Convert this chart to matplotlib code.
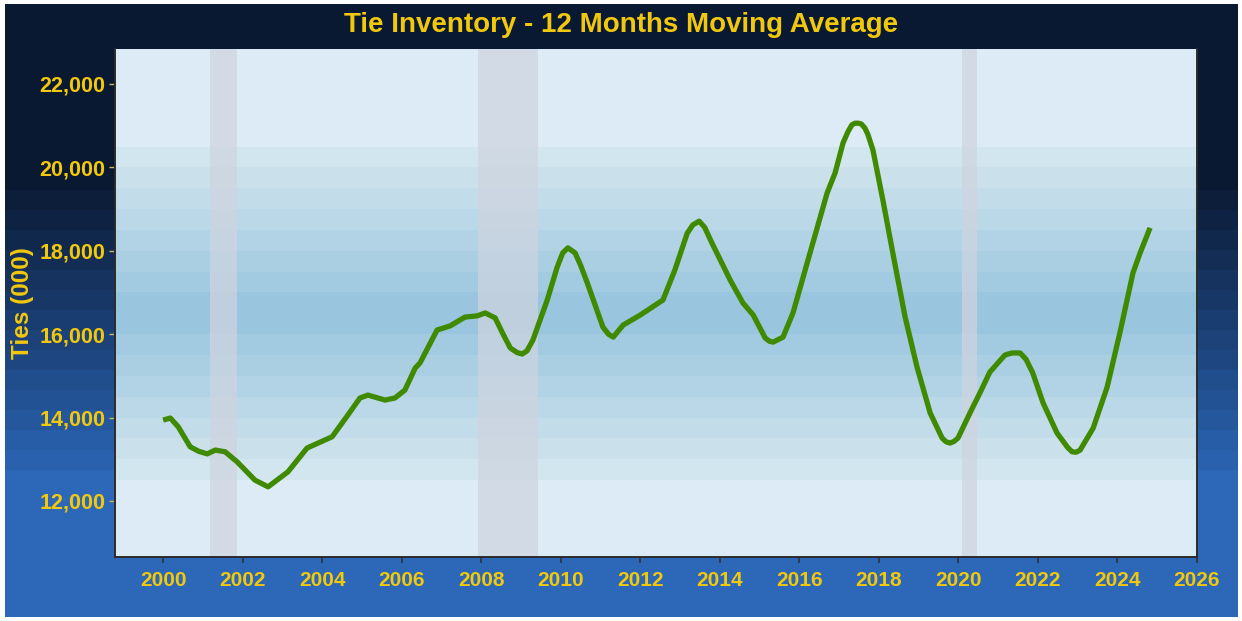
import numpy as np
import matplotlib
matplotlib.use("Agg")
import matplotlib.pyplot as plt
from matplotlib.colors import to_rgb

plt.rcParams['font.family'] = ['Liberation Sans', 'DejaVu Sans']
plt.rcParams['font.weight'] = 'bold'

# values (year fraction, ties in 000)
years = [2000.00, 2000.18, 2000.38, 2000.68, 2000.90, 2001.11, 2001.31, 2001.56, 2001.86,
         2002.31, 2002.64, 2003.14, 2003.62, 2003.90, 2004.25, 2004.60, 2004.95, 2005.15,
         2005.58, 2005.83, 2006.08, 2006.34, 2006.46, 2006.89, 2007.22, 2007.59,
         2007.90, 2008.10, 2008.35, 2008.55, 2008.73, 2008.90, 2009.03, 2009.15, 2009.30,
         2009.66, 2009.91, 2010.05, 2010.18, 2010.36, 2010.50, 2010.66, 2011.06, 2011.20,
         2011.32, 2011.57, 2012.00, 2012.57, 2012.87, 2013.18, 2013.32, 2013.48, 2013.62,
         2013.80, 2014.26, 2014.58, 2014.84, 2015.14, 2015.25, 2015.34, 2015.59, 2015.84,
         2016.34, 2016.70, 2016.90, 2017.10, 2017.22, 2017.32, 2017.40, 2017.48, 2017.56,
         2017.65, 2017.72, 2017.85, 2018.10, 2018.36, 2018.66, 2018.96, 2019.29, 2019.59,
         2019.69, 2019.79, 2019.89, 2019.99, 2020.29, 2020.54, 2020.79, 2021.03, 2021.17,
         2021.35, 2021.55, 2021.70, 2021.87, 2022.13, 2022.48, 2022.75, 2022.86, 2022.96,
         2023.06, 2023.39, 2023.74, 2024.06, 2024.39, 2024.57, 2024.82]
ties = [13940, 13990, 13780, 13300, 13190, 13130, 13220, 13180, 12940,
        12500, 12340, 12700, 13270, 13390, 13540, 14000, 14470, 14540,
        14420, 14470, 14660, 15190, 15310, 16100, 16200, 16410,
        16440, 16510, 16390, 16000, 15670, 15560, 15525, 15600, 15860,
        16820, 17610, 17950, 18070, 17950, 17650, 17250, 16170, 16000,
        15930, 16220, 16460, 16820, 17540, 18420, 18620, 18710, 18560,
        18190, 17300, 16750, 16460, 15910, 15830, 15810, 15930, 16510,
        18190, 19390, 19870, 20590, 20850, 21020, 21060, 21060, 21040,
        20940, 20800, 20420, 19220, 17900, 16410, 15210, 14110, 13510,
        13420, 13390, 13430, 13510, 14110, 14590, 15090, 15350, 15500,
        15550, 15550, 15400, 15070, 14350, 13630, 13280, 13180, 13170,
        13220, 13750, 14730, 16030, 17470, 17950, 18550]

recessions = [(2001.17, 2001.85), (2007.92, 2009.42), (2020.08, 2020.47)]

xticks = list(range(2000, 2027, 2))
yticks = [12000, 14000, 16000, 18000, 20000, 22000]

gold = '#f2c80c'
W, H = 1242, 621
fig = plt.figure(figsize=(W / 100, H / 100), dpi=100, facecolor='white')

# stepped background: navy at top -> blue at bottom
bg = fig.add_axes([5 / W, 4 / H, 1233 / W, 613 / H])
bg.set_axis_off()
top_c = np.array(to_rgb('#0a1932'))
bot_c = np.array(to_rgb('#2c67b8'))
rows = []
for py in range(4, 617):
    t = (py - 170) / (470 - 170)
    t = min(max(t, 0), 1)
    t = np.floor(t * 15) / 15
    rows.append(top_c * (1 - t) + bot_c * t)
img = np.array(rows)[:, None, :]
bg.imshow(img, aspect='auto', extent=[0, 1, 0, 1], interpolation='nearest')

ax = fig.add_axes([115 / W, 64 / H, 1082 / W, 508 / H])
ax.set_facecolor('#dcebf6')

# horizontal bands in the panel
edge_c = np.array(to_rgb('#d6e8f0'))
mid_c = np.array(to_rgb('#96c3dd'))
band_edges = np.arange(12500, 20501, 500)
for lo, hi in zip(band_edges[:-1], band_edges[1:]):
    d = abs((lo + hi) / 2 - 16500) / 4000
    c = mid_c * (1 - d) + edge_c * d
    ax.axhspan(lo, hi, color=c, lw=0, zorder=0)

for a, b in recessions:
    ax.axvspan(a, b, color='#cfd4df', alpha=0.7, lw=0, zorder=1)

ax.plot(years, ties, color='#3f8a00', lw=3.8, solid_joinstyle='round',
        solid_capstyle='butt', zorder=3)

ax.set_xlim(1998.79, 2026)
ax.set_ylim(10657, 22839)
ax.set_xticks(xticks)
ax.set_yticks(yticks)
ax.set_yticklabels([f'{v:,}' for v in yticks])
ax.tick_params(axis='x', colors='#333333', labelcolor=gold, labelsize=15, length=4, width=1.2, pad=6)
ax.tick_params(axis='y', colors='#c8b860', labelcolor=gold, labelsize=15.5, length=4, width=1.0, pad=3)
for lab in ax.get_xticklabels() + ax.get_yticklabels():
    lab.set_fontweight('bold')

for s in ['left', 'bottom', 'right']:
    ax.spines[s].set_color('#2b2b2b')
    ax.spines[s].set_linewidth(1.4)
ax.spines['top'].set_visible(False)

ax.set_ylabel('Ties (000)', color=gold, fontsize=17.5, fontweight='bold', labelpad=4)
fig.text(0.5, 1 - 25 / H, 'Tie Inventory - 12 Months Moving Average', color=gold,
         fontsize=20, fontweight='bold', ha='center', va='center')

fig.savefig('out.png', dpi=100, facecolor='white')
